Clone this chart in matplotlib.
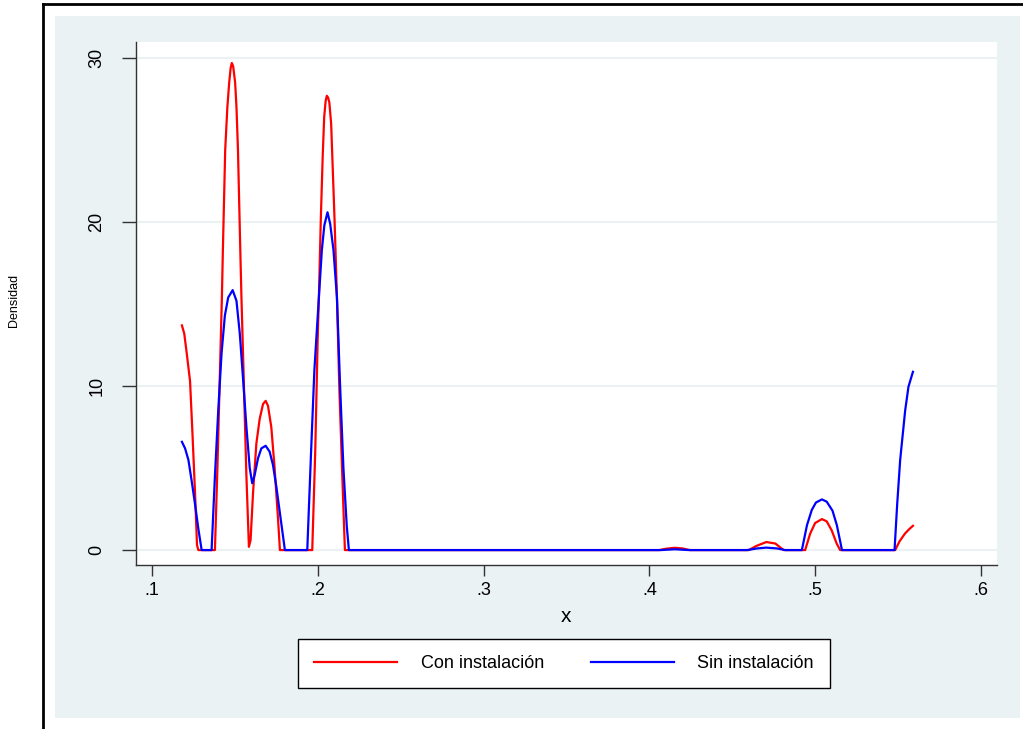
import matplotlib.pyplot as plt
from matplotlib.lines import Line2D
from matplotlib.patches import Rectangle

# densidad estimada
x_con = [0.1181, 0.1195, 0.121, 0.123, 0.1245, 0.126, 0.1272, 0.128,
         0.138, 0.1395, 0.1408, 0.1422, 0.1428, 0.1442, 0.1455, 0.1466, 0.1475, 0.1482, 0.149,
         0.1502, 0.151, 0.1519, 0.1533, 0.154, 0.1555, 0.157, 0.1585,
         0.1595, 0.161, 0.163, 0.165, 0.167, 0.1686, 0.170, 0.172, 0.174, 0.176, 0.1772,
         0.1967, 0.1985, 0.200, 0.2007, 0.2019, 0.203, 0.2039, 0.2048, 0.2055, 0.2062, 0.207,
         0.2081, 0.2101, 0.2116, 0.213, 0.215, 0.2164,
         0.406, 0.410, 0.4153, 0.420, 0.4245,
         0.460, 0.4645, 0.4706, 0.476, 0.481,
         0.494, 0.497, 0.500, 0.5041, 0.507, 0.510, 0.513, 0.5151,
         0.5483, 0.551, 0.5543, 0.557, 0.559]
y_con = [13.7, 13.2, 12.0, 10.3, 7.0, 3.5, 0.3, 0.0,
         0.0, 5.0, 10.0, 15.4, 18.3, 24.4, 27.0, 28.5, 29.4, 29.7, 29.5,
         28.5, 27.0, 24.4, 18.3, 15.4, 10.0, 4.5, 0.2,
         0.6, 3.5, 6.5, 8.0, 8.9, 9.1, 8.8, 7.5, 5.0, 2.0, 0.0,
         0.0, 6.0, 13.0, 15.4, 20.3, 24.0, 26.4, 27.4, 27.7, 27.6, 27.3,
         26.0, 20.3, 15.4, 10.0, 4.0, 0.0,
         0.0, 0.08, 0.14, 0.10, 0.0,
         0.0, 0.25, 0.49, 0.40, 0.0,
         0.0, 1.0, 1.65, 1.89, 1.75, 1.2, 0.4, 0.0,
         0.0, 0.55, 1.02, 1.3, 1.48]

x_sin = [0.1181, 0.120, 0.122, 0.124, 0.126, 0.128, 0.130,
         0.136, 0.138, 0.140, 0.142, 0.144, 0.146, 0.1487, 0.151, 0.153, 0.155, 0.157, 0.159, 0.1605,
         0.162, 0.164, 0.166, 0.1686, 0.171, 0.173, 0.175, 0.177, 0.179, 0.1802,
         0.1937, 0.196, 0.198, 0.2007, 0.2025, 0.204, 0.2059, 0.2075, 0.2095, 0.2116, 0.2135, 0.2155, 0.2175, 0.2188,
         0.407, 0.4153, 0.424,
         0.459, 0.465, 0.4706, 0.477, 0.482,
         0.492, 0.4951, 0.498, 0.5005, 0.5041, 0.507, 0.5105, 0.5131, 0.5162,
         0.5479, 0.5495, 0.5513, 0.5543, 0.5563, 0.559]
y_sin = [6.6, 6.2, 5.5, 4.2, 2.8, 1.3, 0.0,
         0.0, 4.5, 8.5, 12.0, 14.3, 15.4, 15.85, 15.2, 13.2, 10.4, 7.5, 5.0, 4.07,
         4.6, 5.6, 6.2, 6.36, 6.0, 5.2, 3.9, 2.4, 0.9, 0.0,
         0.0, 6.0, 11.0, 15.4, 18.3, 19.8, 20.6, 19.9, 18.3, 15.4, 10.0, 5.0, 1.5, 0.0,
         0.0, 0.05, 0.0,
         0.0, 0.1, 0.15, 0.1, 0.0,
         0.0, 1.52, 2.45, 2.9, 3.09, 2.95, 2.4, 1.52, 0.0,
         0.0, 2.8, 5.5, 8.5, 9.96, 10.87]

x_ticks = [0.1, 0.2, 0.3, 0.4, 0.5, 0.6]
x_labels = ['.1', '.2', '.3', '.4', '.5', '.6']
y_ticks = [0, 10, 20, 30]

plt.rcParams['font.family'] = ['Liberation Sans', 'DejaVu Sans']
bg = '#EAF2F3'

fig = plt.figure(figsize=(10.23, 7.29), dpi=100)
W, H = 1023, 729

# fondo gris azulado y marco negro
fig.patches.append(Rectangle((55 / W, 1 - 718 / H), 965 / W, 702 / H,
                             transform=fig.transFigure, facecolor=bg, edgecolor='none', zorder=-5))
fig.add_artist(Line2D([43 / W, 1], [1 - 3.5 / H, 1 - 3.5 / H], color='black', lw=2, transform=fig.transFigure))
fig.add_artist(Line2D([43 / W, 43 / W], [0, 1 - 3.5 / H], color='black', lw=2, transform=fig.transFigure))

ax = fig.add_axes([136 / W, 1 - 565 / H, 861 / W, 523 / H])
ax.set_zorder(1)
ax.set_facecolor('white')
ax.plot(x_con, y_con, color='#FF0000', lw=1.6, label='Con instalación', zorder=3)
ax.plot(x_sin, y_sin, color='#0000FF', lw=1.6, label='Sin instalación', zorder=4)

ax.set_xlim(0.0904, 0.6097)
ax.set_ylim(-0.91, 30.98)
ax.set_xticks(x_ticks)
ax.set_xticklabels(x_labels)
ax.set_yticks(y_ticks)
ax.tick_params(axis='x', length=8, width=1, labelsize=13, pad=4, color='#333333')
ax.tick_params(axis='y', length=10, width=1, labelsize=13, pad=12, color='#333333')
for lbl in ax.get_yticklabels():
    lbl.set_rotation(90)
    lbl.set_va('center')
ax.grid(axis='y', color=bg, lw=1.5, zorder=0)
ax.set_axisbelow(True)
for s in ['top', 'right']:
    ax.spines[s].set_visible(False)
for s in ['left', 'bottom']:
    ax.spines[s].set_color('#333333')
    ax.spines[s].set_linewidth(1)

ax.set_xlabel('x', fontsize=15, labelpad=6)
fig.text(14 / W, 1 - 300 / H, 'Densidad', rotation=90, fontsize=9, ha='center', va='center')

leg = fig.legend(loc='center', bbox_to_anchor=(298 / W, 1 - 686 / H, 532 / W, 45 / H), mode='expand',
                 ncol=2, frameon=True, fancybox=False, fontsize=13, handlelength=4.6,
                 handletextpad=1.3, borderaxespad=0, borderpad=0.9, framealpha=1)
leg.get_frame().set_edgecolor('black')
leg.get_frame().set_facecolor('white')
leg.get_frame().set_linewidth(1)
leg.set_zorder(2)

fig.savefig('out.png', dpi=100)
